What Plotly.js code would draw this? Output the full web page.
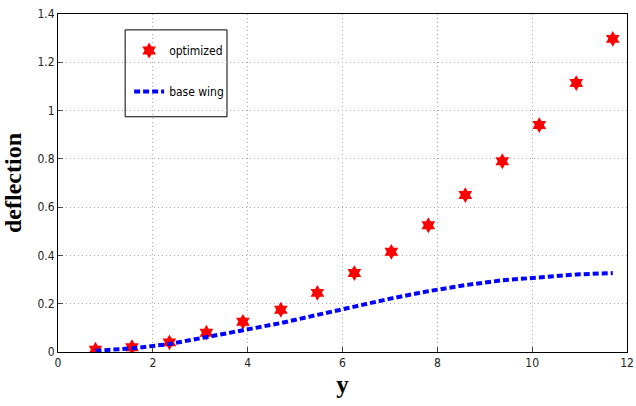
<!DOCTYPE html>
<html><head><meta charset="utf-8">
<script src="https://cdn.plot.ly/plotly-3.0.1.min.js"></script>
<style>body{margin:0;background:#fff}#chart{width:636px;height:406px}</style>
</head><body><div id="chart"></div>
<script>
var spanPos = [0.79, 1.56, 2.35, 3.13, 3.90, 4.70, 5.47, 6.25, 7.03, 7.81, 8.59, 9.37, 10.15, 10.93, 11.70];
var optimized = [0.01, 0.02, 0.04, 0.08, 0.125, 0.175, 0.245, 0.327, 0.415, 0.525, 0.65, 0.79, 0.94, 1.114, 1.297];
var baseWing = [0.005, 0.015, 0.033, 0.06, 0.09, 0.12, 0.155, 0.19, 0.222, 0.252, 0.277, 0.297, 0.311, 0.321, 0.327];
var xTicks = [0, 2, 4, 6, 8, 10, 12];
var yTicks = [0, 0.2, 0.4, 0.6, 0.8, 1, 1.2, 1.4];
var yTickText = ['0', '0.2', '0.4', '0.6', '0.8', '1', '1.2', '1.4'];

var narrow = 'Liberation Sans Narrow, DejaVu Sans Condensed, Arial Narrow, sans-serif';
var traces = [
  {x: spanPos, y: optimized, name: 'optimized', mode: 'markers', type: 'scatter', legendgroup: 'a',
   marker: {symbol: 'hexagram', size: 12, color: '#ff0000', line: {width: 0}}},
  {x: spanPos, y: baseWing, name: 'base wing', mode: 'lines', type: 'scatter', legendgroup: 'b',
   line: {color: '#0000ff', width: 4, dash: '6px,3px'}}
];
var tickFont = {family: narrow, size: 12, color: '#222'};
var layout = {
  width: 636, height: 406,
  margin: {l: 58, r: 9, t: 14, b: 54},
  paper_bgcolor: '#fff', plot_bgcolor: '#fff',
  showlegend: true,
  legend: {x: 0.125, y: 0.935, xanchor: 'left', yanchor: 'top', bgcolor: 'rgba(0,0,0,0)', borderwidth: 0,
           traceorder: 'grouped', tracegroupgap: 22,
           font: {family: narrow, size: 12, color: '#000'}},
  xaxis: {range: [0, 12], tickvals: xTicks, ticktext: xTicks.map(String), tickfont: tickFont,
          ticks: 'inside', ticklen: 5, tickcolor: '#444', showline: true, linecolor: '#000', linewidth: 1, mirror: true,
          showgrid: true, gridcolor: '#aaa', griddash: '1px,3px', gridwidth: 1, zeroline: false,
          title: {text: '<b>y</b>', font: {family: 'Liberation Serif, Times New Roman, serif', size: 25, color: '#000'}, standoff: 6}},
  yaxis: {range: [0, 1.4], tickvals: yTicks, ticktext: yTickText, tickfont: tickFont,
          ticks: 'inside', ticklen: 5, tickcolor: '#444', showline: true, linecolor: '#000', linewidth: 1, mirror: true,
          showgrid: true, gridcolor: '#aaa', griddash: '1px,3px', gridwidth: 1, zeroline: false,
          title: {text: '<b>deflection</b>', font: {family: 'Liberation Serif, Times New Roman, serif', size: 24, color: '#000'}, standoff: 14}},
  shapes: [{type: 'rect', xref: 'paper', yref: 'paper', x0: 0.118, x1: 0.297, y0: 0.696, y1: 0.953,
            line: {color: '#000', width: 1}, fillcolor: '#fff', layer: 'below'}]
};
Plotly.newPlot('chart', traces, layout, {displayModeBar: false, staticPlot: true});
</script></body></html>
